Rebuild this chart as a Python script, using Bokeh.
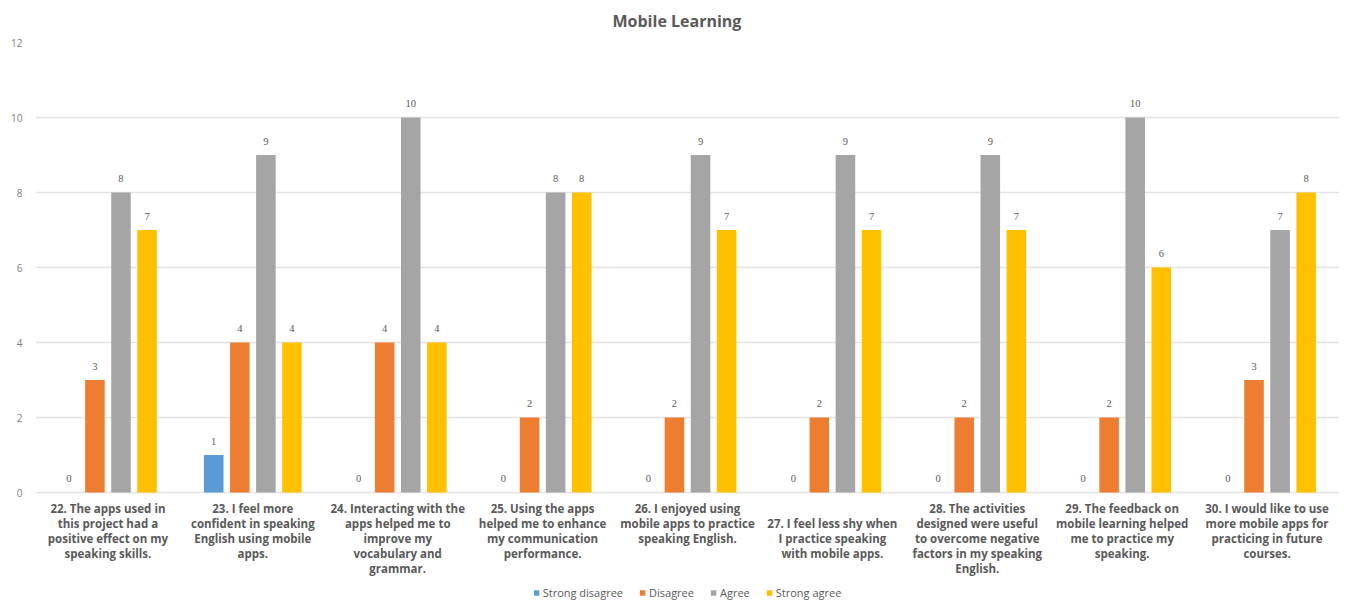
from bokeh.plotting import figure
from bokeh.models import Range1d, FixedTicker, ColumnDataSource, Legend, LegendItem, LabelSet
from bokeh.core.properties import value
from bokeh.embed import file_html
from bokeh.resources import INLINE

questions = [
    "22. The apps used in\nthis project had a\npositive effect on my\nspeaking skills.",
    "23. I feel more\nconfident in speaking\nEnglish using mobile\napps.",
    "24. Interacting with the\napps helped me to\nimprove my\nvocabulary and\ngrammar.",
    "25. Using the apps\nhelped me to enhance\nmy communication\nperformance.",
    "26. I enjoyed using\nmobile apps to practice\nspeaking English.",
    "\n27. I feel less shy when\nI practice speaking\nwith mobile apps.",
    "28. The activities\ndesigned were useful\nto overcome negative\nfactors in my speaking\nEnglish.",
    "29. The feedback on\nmobile learning helped\nme to practice my\nspeaking.",
    "30. I would like to use\nmore mobile apps for\npracticing in future\ncourses.",
]
series_names = ["Strong disagree", "Disagree", "Agree", "Strong agree"]
strong_disagree = [0, 1, 0, 0, 0, 0, 0, 0, 0]
disagree = [3, 4, 4, 2, 2, 2, 2, 2, 3]
agree = [8, 9, 10, 8, 9, 9, 9, 10, 7]
strong_agree = [7, 4, 4, 8, 7, 7, 7, 6, 8]
y_ticks = [0, 2, 4, 6, 8, 10, 12]

series_values = [strong_disagree, disagree, agree, strong_agree]
colors = ["#5B9BD5", "#ED7D31", "#A5A5A5", "#FFC000"]
offsets = [-0.27, -0.09, 0.09, 0.27]
bar_w = 0.135
label_color = "#595959"
FONT = "Open Sans"

# frame spans from y=12 (top, px 42) down to the window bottom; 37.5 px per unit
p = figure(width=1347, height=602, output_backend="svg", toolbar_location=None,
           x_range=Range1d(0, len(questions)), y_range=Range1d(-2.933, 12),
           min_border_left=35, min_border_right=8, min_border_top=42, min_border_bottom=0)
p.outline_line_color = None
p.background_fill_color = "white"
p.border_fill_color = "white"

p.title.text = "Mobile Learning"
p.title.align = "left"
p.title.text_font = FONT
p.title.text_font_size = "16px"
p.title.text_font_style = "bold"
p.title.text_color = label_color
p.title.offset = 577
p.title.standoff = 18
p.title.vertical_align = "top"

xs_center = [i + 0.5 for i in range(len(questions))]
items = []
for name, vals, col, off in zip(series_names, series_values, colors, offsets):
    src = ColumnDataSource(dict(x=[c + off for c in xs_center], top=vals,
                                lab=[str(v) for v in vals]))
    r = p.vbar(x="x", top="top", width=bar_w, source=src, fill_color=col, line_color=None)
    items.append(LegendItem(label=name, renderers=[r]))
    ls = LabelSet(x="x", y="top", text="lab", source=src, text_align="center",
                  text_baseline="middle", y_offset=14, text_font_size="10.5px",
                  text_font=FONT, text_color=label_color)
    p.add_layout(ls)

# category labels under the baseline
p.text(x=xs_center, y=[0] * len(questions), text=questions, y_offset=8,
       text_align="center", text_baseline="top", text_font=value(FONT),
       text_font_size="11.5px", text_font_style="bold", text_color=label_color,
       text_line_height=1.0)

# y axis
p.yaxis.ticker = FixedTicker(ticks=y_ticks)
p.yaxis.axis_line_color = None
p.yaxis.major_tick_line_color = None
p.yaxis.minor_tick_line_color = None
p.yaxis.major_label_text_font = FONT
p.yaxis.major_label_text_font_size = "10px"
p.yaxis.major_label_text_color = "#7F7F7F"
p.yaxis.major_label_standoff = 7
p.ygrid.grid_line_color = "#E3E3E3"
p.ygrid.grid_line_width = 1.5

p.xaxis.visible = False
p.xgrid.grid_line_color = None

legend = Legend(items=items, orientation="horizontal", location="bottom_center",
                label_text_font=FONT, label_text_font_size="11px",
                label_text_color=label_color, glyph_width=7, glyph_height=7,
                label_standoff=3, spacing=16, border_line_color=None,
                background_fill_alpha=0, padding=0, margin=2)
p.add_layout(legend)

open("out.html", "w").write(file_html(p, INLINE))
